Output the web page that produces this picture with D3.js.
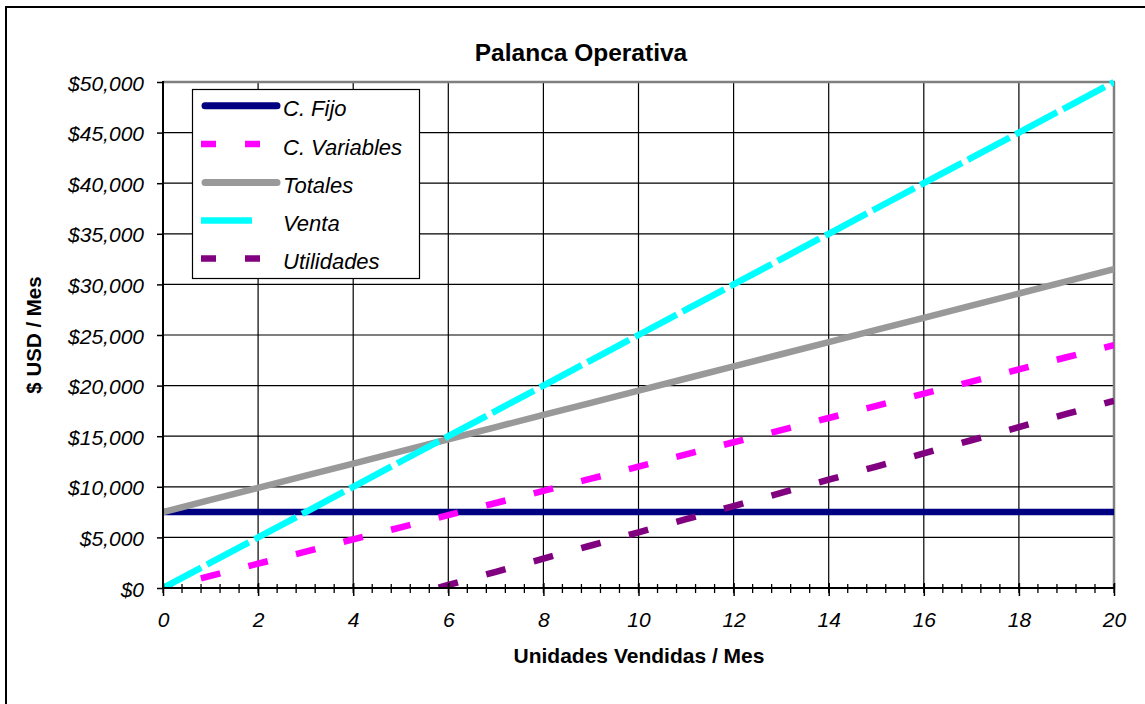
<!DOCTYPE html>
<html>
<head>
<meta charset="utf-8">
<script src="https://cdn.jsdelivr.net/npm/d3@7/dist/d3.min.js"></script>
<style>
  html, body { margin: 0; padding: 0; background: #fff; }
  svg { display: block; }
  text { font-family: "Liberation Sans", Arial, sans-serif; fill: #000; }
</style>
</head>
<body>
<svg id="chart" width="1145" height="704"></svg>
<script>
// ---- data ----
const units = [0,1,2,3,4,5,6,7,8,9,10,11,12,13,14,15,16,17,18,19,20];
const cFijo = [7500,7500,7500,7500,7500,7500,7500,7500,7500,7500,7500,7500,7500,7500,7500,7500,7500,7500,7500,7500,7500];
const cVariables = [0,1200,2400,3600,4800,6000,7200,8400,9600,10800,12000,13200,14400,15600,16800,18000,19200,20400,21600,22800,24000];
const totales = [7500,8700,9900,11100,12300,13500,14700,15900,17100,18300,19500,20700,21900,23100,24300,25500,26700,27900,29100,30300,31500];
const venta = [0,2500,5000,7500,10000,12500,15000,17500,20000,22500,25000,27500,30000,32500,35000,37500,40000,42500,45000,47500,50000];
const utilidades = [-7500,-6200,-4900,-3600,-2300,-1000,300,1600,2900,4200,5500,6800,8100,9400,10700,12000,13300,14600,15900,17200,18500];
const seriesNames = ["C. Fijo","C. Variables","Totales","Venta","Utilidades"];
const xTickValues = [0,2,4,6,8,10,12,14,16,18,20];
const yTickValues = [0,5000,10000,15000,20000,25000,30000,35000,40000,45000,50000];

const titleText = "Palanca Operativa";
const xTitle = "Unidades Vendidas / Mes";
const yTitle = "$ USD / Mes";

// ---- layout ----
const svg = d3.select("#chart");
const L = 163, R = 1114, T = 82, B = 588;
const x = d3.scaleLinear().domain([0, 20]).range([L, R]);
const y = d3.scaleLinear().domain([0, 50000]).range([B, T]);

const styles = [
  {color: "#000080", width: 6.5, type: "solid"},
  {color: "#FF00FF", width: 6.5, type: "dash"},
  {color: "#999999", width: 6.5, type: "solid"},
  {color: "#00FFFF", width: 6.5, type: "longdash"},
  {color: "#800080", width: 6.5, type: "dash"}
];
const seriesData = [cFijo, cVariables, totales, venta, utilidades];

// outer chart border
svg.append("rect").attr("x", 6).attr("y", 7).attr("width", 1300).attr("height", 900)
  .attr("fill", "#fff").attr("stroke", "#000").attr("stroke-width", 2);

// plot background
svg.append("rect").attr("x", L).attr("y", T).attr("width", R - L).attr("height", B - T)
  .attr("fill", "#fff");

// gridlines
const grid = svg.append("g");
xTickValues.filter(v => v > 0 && v < 20).forEach(v => {
  grid.append("line").attr("x1", x(v)).attr("x2", x(v)).attr("y1", T).attr("y2", B)
    .attr("stroke", "#000").attr("stroke-width", 1.2);
});
yTickValues.filter(v => v > 0 && v < 50000).forEach(v => {
  grid.append("line").attr("x1", L).attr("x2", R).attr("y1", y(v)).attr("y2", y(v))
    .attr("stroke", "#000").attr("stroke-width", 1.2);
});

// plot border (top/right grey)
svg.append("line").attr("x1", L).attr("x2", R + 1).attr("y1", T).attr("y2", T)
  .attr("stroke", "#808080").attr("stroke-width", 2.5);
svg.append("line").attr("x1", R).attr("x2", R).attr("y1", T).attr("y2", B)
  .attr("stroke", "#808080").attr("stroke-width", 2.5);

// clip
svg.append("clipPath").attr("id", "plotclip").append("rect")
  .attr("x", L).attr("y", T - 4).attr("width", R - L).attr("height", B - T + 4);

// series lines
const lineGen = d3.line().x((d, i) => x(units[i])).y(d => y(d));
const linesG = svg.append("g").attr("clip-path", "url(#plotclip)");
seriesData.forEach((vals, si) => {
  const st = styles[si];
  const segLen = Math.hypot(x(units[1]) - x(units[0]), y(vals[1]) - y(vals[0]));
  const p = linesG.append("path").attr("d", lineGen(vals))
    .attr("fill", "none").attr("stroke", st.color).attr("stroke-width", st.width);
  if (st.type === "solid") {
    p.attr("stroke-linecap", "round").attr("stroke-linejoin", "round");
  } else if (st.type === "dash") {
    const d = 20;
    p.attr("stroke-dasharray", d + "," + (segLen - d)).attr("stroke-dashoffset", d / 2)
      .attr("stroke-linecap", "butt");
  } else {
    const g = 6.5;
    p.attr("stroke-dasharray", (segLen - g) + "," + g).attr("stroke-dashoffset", 4)
      .attr("stroke-linecap", "butt");
  }
});

// axes
const yAxis = d3.axisLeft(y).tickValues(yTickValues).tickSize(6).tickPadding(13)
  .tickFormat(d3.format("$,"));
const yg = svg.append("g").attr("transform", `translate(${L},0)`).call(yAxis);
yg.select(".domain").remove();
yg.selectAll(".tick line").attr("stroke", "#000").attr("stroke-width", 1.5);
yg.selectAll(".tick text").attr("font-size", 21).attr("font-style", "italic")
  .attr("font-family", "Liberation Sans, Arial, sans-serif").attr("dy", 8).attr("fill", "#000");

const xMinor = d3.range(0, 20.001, 0.4);
const xMinorG = svg.append("g");
xMinor.forEach(v => {
  xMinorG.append("line").attr("x1", x(v)).attr("x2", x(v)).attr("y1", B - 4).attr("y2", B + 5)
    .attr("stroke", "#000").attr("stroke-width", 1.3);
});
const xAxis = d3.axisBottom(x).tickValues(xTickValues).tickSize(8).tickPadding(0)
  .tickFormat(d3.format("d"));
const xg = svg.append("g").attr("transform", `translate(0,${B})`).call(xAxis);
xg.select(".domain").remove();
xg.selectAll(".tick line").attr("stroke", "#000").attr("stroke-width", 1.5).attr("y1", -5);
xg.selectAll(".tick text").attr("font-size", 21).attr("font-style", "italic")
  .attr("font-family", "Liberation Sans, Arial, sans-serif").attr("y", 39).attr("dy", 0).attr("fill", "#000");

// axis lines (black)
svg.append("line").attr("x1", L).attr("x2", L).attr("y1", T - 1).attr("y2", B + 1)
  .attr("stroke", "#000").attr("stroke-width", 2);
svg.append("line").attr("x1", L - 1).attr("x2", R + 1).attr("y1", B).attr("y2", B)
  .attr("stroke", "#000").attr("stroke-width", 2);

// titles
svg.append("text").attr("x", 581).attr("y", 61).attr("text-anchor", "middle")
  .attr("font-size", 24.5).attr("font-weight", "bold").text(titleText);
svg.append("text").attr("x", 639).attr("y", 663).attr("text-anchor", "middle")
  .attr("font-size", 21).attr("font-weight", "bold").text(xTitle);
svg.append("text").attr("transform", `translate(41,${(T + B) / 2}) rotate(-90)`)
  .attr("text-anchor", "middle").attr("font-size", 20.5).attr("font-weight", "bold").text(yTitle);

// legend
const lg = svg.append("g");
lg.append("rect").attr("x", 192.5).attr("y", 89.5).attr("width", 227).attr("height", 189)
  .attr("fill", "#fff").attr("stroke", "#000").attr("stroke-width", 1.2);
const rowY = [105.7, 144, 182.5, 220.5, 258.5];
seriesNames.forEach((name, i) => {
  const st = styles[i];
  const ry = rowY[i];
  if (st.type === "solid") {
    lg.append("line").attr("x1", 205).attr("x2", 277).attr("y1", ry).attr("y2", ry)
      .attr("stroke", st.color).attr("stroke-width", 7).attr("stroke-linecap", "round");
  } else if (st.type === "dash") {
    lg.append("line").attr("x1", 201).attr("x2", 260).attr("y1", ry).attr("y2", ry)
      .attr("stroke", st.color).attr("stroke-width", 6.5).attr("stroke-dasharray", "15,29");
  } else {
    lg.append("line").attr("x1", 201).attr("x2", 252).attr("y1", ry).attr("y2", ry)
      .attr("stroke", st.color).attr("stroke-width", 6.5);
  }
  lg.append("text").attr("x", 283).attr("y", ry + 10.5).attr("font-size", 22)
    .attr("font-style", "italic").text(name);
});
</script>
</body>
</html>
